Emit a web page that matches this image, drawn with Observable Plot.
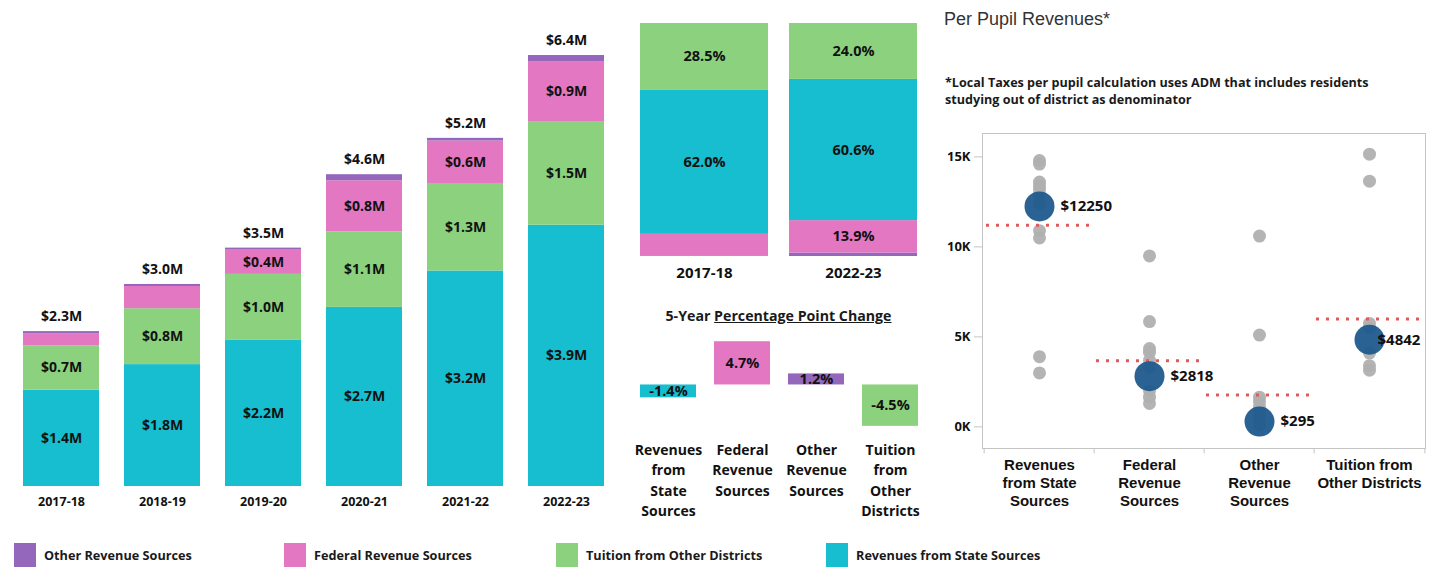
<!DOCTYPE html>
<html><head><meta charset="utf-8">
<script src="https://cdn.jsdelivr.net/npm/d3@7"></script>
<script src="https://cdn.jsdelivr.net/npm/@observablehq/plot@0.6"></script>
<style>
body{margin:0;background:#fff;}
#root{position:relative;width:1432px;height:582px;overflow:hidden;font-family:"Open Sans",sans-serif;color:#1a1a1a;background:#fff;}
.abs{position:absolute;}
.abs svg{overflow:visible;}
.lg{position:absolute;top:543px;height:24px;display:flex;align-items:center;font:700 12.7px "Open Sans",sans-serif;color:#1a1a1a;}
.lg i{display:inline-block;width:22px;height:24px;margin-right:8px;}
</style></head><body><div id="root"></div>
<script>
// ---------- Data ----------
const years = ["2017-18","2018-19","2019-20","2020-21","2021-22","2022-23"];
const stateRev   = [1.43, 1.81, 2.17, 2.66, 3.20, 3.88];   // $M
const tuitionRev = [0.66, 0.83, 0.98, 1.12, 1.30, 1.53];
const federalRev = [0.18, 0.33, 0.36, 0.76, 0.63, 0.90];
const otherRev   = [0.03, 0.03, 0.03, 0.09, 0.04, 0.09];

const seriesNames  = ["Revenues from State Sources","Tuition from Other Districts","Federal Revenue Sources","Other Revenue Sources"];
const seriesColors = ["#17becf","#8cd17d","#e377c2","#9467bd"];

const shareYears   = ["2017-18","2022-23"];
const shareState   = [62.0, 60.6];
const shareTuition = [28.5, 24.0];
const shareFederal = [9.2, 13.9];
const shareOther   = [0.3, 1.5];

const changeCats   = ["Revenues from State Sources","Federal Revenue Sources","Other Revenue Sources","Tuition from Other Districts"];
const changeValues = [-1.4, 4.7, 1.2, -4.5];
const changeLabels = ["Revenues\nfrom\nState\nSources","Federal\nRevenue\nSources","Other\nRevenue\nSources","Tuition\nfrom\nOther\nDistricts"];

const ppCats     = ["Revenues from State Sources","Federal Revenue Sources","Other Revenue Sources","Tuition from Other Districts"];
const ppLabels   = ["Revenues\nfrom State\nSources","Federal\nRevenue\nSources","Other\nRevenue\nSources","Tuition from\nOther Districts"];
const ppDistrict = [12250, 2818, 295, 4842];
const ppAverage  = [11200, 3680, 1770, 6000];
const ppPeersState   = [14800, 14600, 13600, 13400, 13200, 12900, 12400, 10900, 10500, 3900, 3000];
const ppPeersFederal = [9500, 5850, 4350, 4150, 3700, 3300, 2000, 1650, 1300];
const ppPeersOther   = [10600, 5100, 1650, 1400, 1100, 800, 500, 100];
const ppPeersTuition = [15150, 13650, 5750, 5500, 4100, 3400, 3150];
const ppYTicks = [0, 5000, 10000, 15000];

// ---------- Helpers ----------
const root = document.getElementById("root");
function place(node, left, top){ const d=document.createElement("div"); d.className="abs"; d.style.left=left+"px"; d.style.top=top+"px"; d.appendChild(node); root.appendChild(d); return d; }
const colorScale = {domain: seriesNames, range: seriesColors};
const baseStyle = {fontFamily:"'Open Sans', sans-serif", color:"#1a1a1a", background:"transparent", overflow:"visible"};
const fmtM = v => `$${v.toFixed(1)}M`;
const VAL = 14;

// ---------- Panel 1: stacked $ bars ----------
const stackRows = [];
years.forEach((yr,i)=>{
  let base = 0;
  [stateRev, tuitionRev, federalRev, otherRev].forEach((arr,k)=>{
    const v = arr[i];
    stackRows.push({year:yr, series:seriesNames[k], value:v, y1:base, y2:base+v});
    base += v;
  });
});
const totals = years.map((yr,i)=>({year:yr, total: stateRev[i]+tuitionRev[i]+federalRev[i]+otherRev[i]}));

const p1 = Plot.plot({
  width:620, height:520, marginLeft:20, marginRight:13, marginTop:20, marginBottom:34,
  style: baseStyle,
  x:{domain:years, paddingInner:0.245, paddingOuter:0, label:null},
  y:{domain:[0,6.92], axis:null},
  color: colorScale,
  marks:[
    Plot.rectY(stackRows,{x:"year", y1:"y1", y2:"y2", fill:"series"}),
    Plot.text(stackRows.filter(d=>d.value>=0.35),{x:"year", y:d=>(d.y1+d.y2)/2, text:d=>fmtM(d.value), fontSize:VAL, fontWeight:700, fill:"#111"}),
    Plot.text(totals,{x:"year", y:"total", text:d=>fmtM(d.total), dy:-15, fontSize:VAL, fontWeight:700, fill:"#111"}),
    Plot.axisX({tickSize:0, tickPadding:11, fontSize:12.5, fontWeight:700, fill:"#111", label:null})
  ]
});
place(p1, 0, 0);

// ---------- Panel 2: 100% share bars ----------
const shareRows = [];
shareYears.forEach((yr,i)=>{
  let base = 0;
  [[shareOther,3],[shareFederal,2],[shareState,0],[shareTuition,1]].forEach(([arr,k])=>{
    const v = arr[i];
    shareRows.push({year:yr, series:seriesNames[k], value:v, y1:base, y2:base+v});
    base += v;
  });
});
const p2 = Plot.plot({
  width:310, height:290, marginLeft:20, marginRight:13, marginTop:23, marginBottom:34,
  style: baseStyle,
  x:{domain:shareYears, paddingInner:0.141, paddingOuter:0, label:null},
  y:{domain:[0,100], axis:null},
  color: colorScale,
  marks:[
    Plot.rectY(shareRows,{x:"year", y1:"y1", y2:"y2", fill:"series"}),
    Plot.text(shareRows.filter(d=>d.value>10),{x:"year", y:d=>(d.y1+d.y2)/2, text:d=>d.value.toFixed(1)+"%", fontSize:14.5, fontWeight:700, fill:"#111"}),
    Plot.axisX({tickSize:0, tickPadding:11, fontSize:15, fontWeight:700, fill:"#111", label:null})
  ]
});
place(p2, 620, 0);

// ---------- Panel 3: 5-year change ----------
const title3 = document.createElement("div");
title3.className = "abs";
title3.style.cssText = "left:620px;top:306px;width:317px;text-align:center;font:700 14.2px 'Open Sans',sans-serif;color:#1a1a1a;";
title3.innerHTML = '5-Year <u>Percentage Point Change</u>';
root.appendChild(title3);

const changeRows = changeCats.map((c,i)=>({cat:c, value:changeValues[i], label:changeLabels[i]}));
const p3 = Plot.plot({
  width:310, height:240, marginLeft:19, marginRight:12, marginTop:40, marginBottom:100,
  style: baseStyle,
  x:{domain:changeCats, paddingInner:0.246, paddingOuter:0, axis:null},
  y:{domain:[-4.95,5.92], axis:null},
  color: colorScale,
  marks:[
    Plot.barY(changeRows,{x:"cat", y:"value", fill:"cat"}),
    Plot.text(changeRows,{x:"cat", y:d=>d.value/2, text:d=>d.value.toFixed(1)+"%", fontSize:14.5, fontWeight:700, fill:"#111"}),
    Plot.text(changeRows,{x:"cat", text:"label", frameAnchor:"bottom", lineAnchor:"top", dy:10, lineHeight:1.45, fontSize:14, fontWeight:700, fill:"#111"})
  ]
});
place(p3, 620, 290);

// ---------- Panel 4: per pupil revenues ----------
const title4 = document.createElement("div");
title4.className = "abs";
title4.style.cssText = "left:944px;top:9px;font:400 18px 'Liberation Sans',Arial,sans-serif;color:#333;";
title4.textContent = "Per Pupil Revenues*";
root.appendChild(title4);
const note4 = document.createElement("div");
note4.className = "abs";
note4.style.cssText = "left:945px;top:75px;font:700 12.6px/16.6px 'Open Sans',sans-serif;color:#1a1a1a;white-space:nowrap;";
note4.innerHTML = "*Local Taxes per pupil calculation uses ADM that includes residents<br>studying out of district as denominator";
root.appendChild(note4);

const peers = [];
[ppPeersState, ppPeersFederal, ppPeersOther, ppPeersTuition].forEach((arr,k)=>arr.forEach(v=>peers.push({cat:ppCats[k], value:v})));
const avgRows = ppCats.map((c,i)=>({cat:c, value:ppAverage[i]}));
const distRows = ppCats.map((c,i)=>({cat:c, value:ppDistrict[i]}));
const W4 = 502, ML4 = 52, MR4 = 7;
const step4 = (W4-ML4-MR4)/ppCats.length;
const gridGray = "#c4c4c4";
const p4 = Plot.plot({
  width:W4, height:400, marginLeft:ML4, marginRight:MR4, marginTop:13, marginBottom:72,
  style: baseStyle,
  x:{domain:ppCats, padding:0, axis:null},
  y:{domain:[-1200,16300], axis:null},
  marks:[
    Plot.frame({stroke:gridGray}),
    Plot.ruleX(ppCats,{x:d=>d, dx:-step4/2, y1:-1200, y2:-1500, stroke:gridGray}),
    Plot.ruleX(ppCats.slice(-1),{x:d=>d, dx:step4/2, y1:-1200, y2:-1500, stroke:gridGray}),
    Plot.axisY({ticks:ppYTicks, tickFormat:d=>(d/1000)+"K", tickSize:8, tickPadding:4, stroke:gridGray, fill:"#111", fontSize:13, fontWeight:700, label:null}),
    Plot.dot(peers,{x:"cat", y:"value", r:6.5, fill:"#b0b0b0", fillOpacity:0.95}),
    Plot.tickY(avgRows,{x:"cat", y:"value", stroke:"#e05a5a", strokeWidth:3, strokeDasharray:"3,7", insetLeft:2, insetRight:4}),
    Plot.dot(distRows,{x:"cat", y:"value", r:15, fill:"#1f5a8d", fillOpacity:0.95}),
    Plot.text(distRows.slice(0,3),{x:"cat", y:"value", text:d=>"$"+d.value, textAnchor:"start", dx:21, fontSize:15, fontWeight:700, fill:"#111"}),
    Plot.text(distRows.slice(3),{x:"cat", y:"value", text:d=>"$"+d.value, textAnchor:"start", dx:8, fontSize:15, fontWeight:700, fill:"#111"}),
    Plot.text(ppCats,{x:d=>d, text:(d,i)=>ppLabels[i], frameAnchor:"bottom", lineAnchor:"top", dy:9, lineHeight:1.2, fontSize:15, fontWeight:700, fontFamily:"'Liberation Sans', Arial, sans-serif", fill:"#111"})
  ]
});
place(p4, 930, 120);

// ---------- Legend ----------
const legendOrder = [3,2,1,0];
const legendX = [14, 284, 556, 826];
legendOrder.forEach((k,j)=>{
  const d = document.createElement("div");
  d.className = "lg";
  d.style.left = legendX[j]+"px";
  d.innerHTML = `<i style="background:${seriesColors[k]}"></i><span>${seriesNames[k]}</span>`;
  root.appendChild(d);
});
</script></body></html>
